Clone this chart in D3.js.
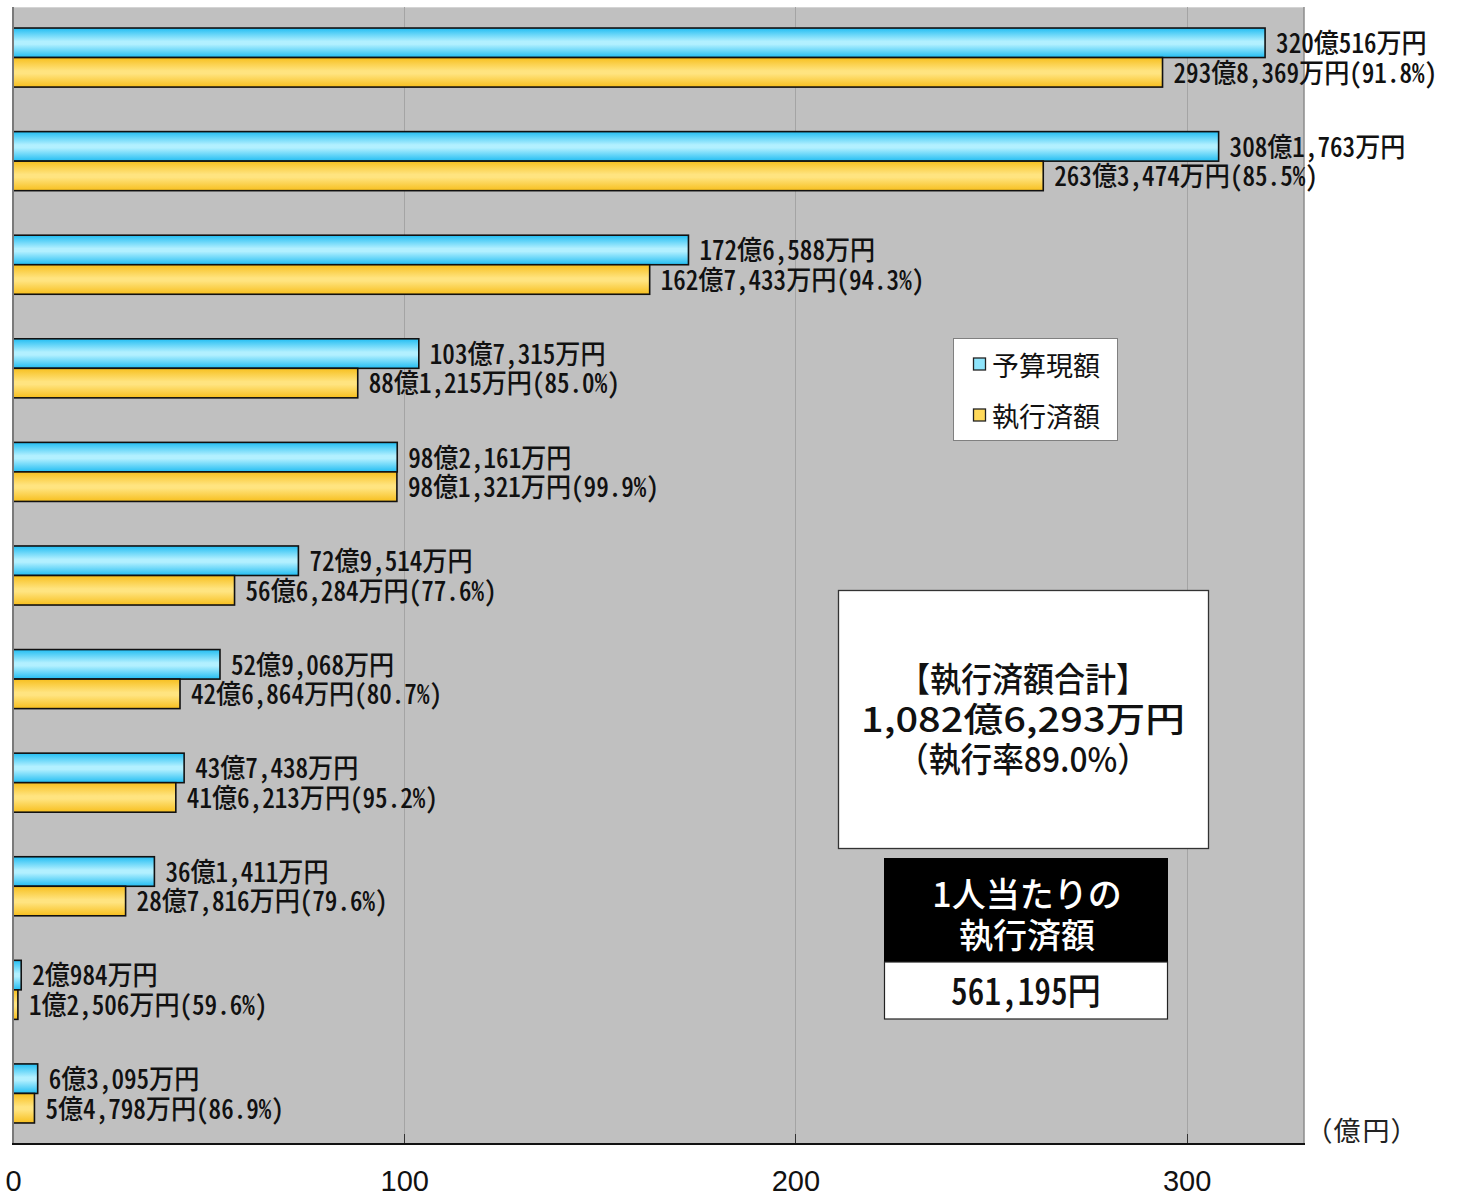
<!DOCTYPE html>
<html><head><meta charset="utf-8">
<script src="https://cdn.jsdelivr.net/npm/d3@7"></script>
<style>
html,body{margin:0;padding:0;background:#fff;}
svg{display:block;}
text{font-family:"Noto Sans CJK JP","Noto Sans",sans-serif;}
.hw{font-feature-settings:"hwid";}
</style></head>
<body>
<svg id="chart" width="1459" height="1197"></svg>
<script>
// ---- data (values in 万円) ----
const categories = ["c1","c2","c3","c4","c5","c6","c7","c8","c9","c10","c11"];
const seriesNames = ["予算現額","執行済額"];
const budget = [3200516, 3081763, 1726588, 1037315, 982161, 729514, 529068, 437438, 361411, 20984, 63095];
const executed = [2938369, 2633474, 1627433, 881215, 981321, 566284, 426864, 416213, 287816, 12506, 54798];
const rates = [91.8, 85.5, 94.3, 85.0, 99.9, 77.6, 80.7, 95.2, 79.6, 59.6, 86.9];
const xTicks = [0, 100, 200, 300];
const unitLabel = "（億円）";
const totalTitle = "【執行済額合計】";
const perPersonTitle = ["1人当たりの","執行済額"];
const perPersonValue = 561195;

const svg = d3.select("#chart");
const L = 13, R = 1304, T = 7, B = 1144;

const x = d3.scaleLinear().domain([0, 330]).range([L, R]);
const y = d3.scaleBand().domain(categories).range([T, B]).paddingInner(0.43).paddingOuter(0.203);
const ySub = d3.scaleBand().domain(seriesNames).range([0, y.bandwidth()]);

const fmt = d3.format(",");
function yenLabel(v){ const oku = Math.floor(v/10000), man = v % 10000; return fmt(oku) + "億" + fmt(man) + "万円"; }

// gradients
const defs = svg.append("defs");
function grad(id, edge, mid){
  const g = defs.append("linearGradient").attr("id", id).attr("x1",0).attr("y1",0).attr("x2",0).attr("y2",1);
  g.append("stop").attr("offset",0).attr("stop-color",edge);
  g.append("stop").attr("offset",0.45).attr("stop-color",mid);
  g.append("stop").attr("offset",0.55).attr("stop-color",mid);
  g.append("stop").attr("offset",1).attr("stop-color",edge);
}
grad("gBlue", "#22bdf2", "#b2f0ff");
grad("gYellow", "#f7bf1e", "#ffe480");
const fills = {"予算現額":"url(#gBlue)", "執行済額":"url(#gYellow)"};
const solid = {"予算現額":"#8ee4fb", "執行済額":"#ffd95a"};

// plot background
svg.append("rect").attr("x", L).attr("y", T).attr("width", R-L).attr("height", B-T).attr("fill", "#c0c0c0");
svg.append("line").attr("x1", L).attr("x2", R).attr("y1", T+0.5).attr("y2", T+0.5).attr("stroke", "#d4d4d4");
svg.append("line").attr("x1", R).attr("x2", R).attr("y1", T).attr("y2", B).attr("stroke", "#8c8c8c").attr("stroke-width", 1.5);

// gridlines
svg.append("g").selectAll("line").data(xTicks.filter(d=>d>0)).join("line")
  .attr("x1", d=>Math.round(x(d))+0.5).attr("x2", d=>Math.round(x(d))+0.5)
  .attr("y1", T).attr("y2", B).attr("stroke", "#a4a4a4").attr("stroke-width", 1);

// bars
const groups = svg.append("g").selectAll("g").data(categories).join("g")
  .attr("transform", d=>`translate(0,${y(d)})`);
groups.each(function(c, i){
  const g = d3.select(this);
  const vals = [budget[i], executed[i]];
  seriesNames.forEach((s, j)=>{
    const v = vals[j]/10000;
    g.append("rect")
      .attr("x", x(0)).attr("y", ySub(s))
      .attr("width", x(v)-x(0)).attr("height", ySub.bandwidth())
      .attr("fill", fills[s]).attr("stroke", "#111").attr("stroke-width", 1.6);
    const label = j === 0 ? yenLabel(vals[j]) : yenLabel(vals[j]) + "(" + rates[i].toFixed(1) + "%)";
    g.append("text").attr("class","hw")
      .attr("transform", `translate(${x(v)+11},${ySub(s)+ySub.bandwidth()/2-1}) scale(0.93,1)`)
      .attr("dominant-baseline","central")
      .attr("font-size", 27).attr("font-weight", 500).attr("fill", "#111")
      .text(label);
  });
});

// axes lines
svg.append("line").attr("x1", L).attr("x2", L).attr("y1", T).attr("y2", B).attr("stroke", "#7a7a7a").attr("stroke-width", 2);
const xAxis = d3.axisBottom(x).tickValues(xTicks).tickSize(0).tickPadding(0).tickFormat(d3.format("d"));
const ax = svg.append("g").attr("transform", `translate(0,${B})`).call(xAxis);
ax.select(".domain").remove();
ax.selectAll("text").attr("y", 37).attr("dy", null).attr("dominant-baseline", "central")
  .attr("font-size", 29).attr("fill", "#111")
  .style("font-family", '"Liberation Sans", Arial, sans-serif');
// inner ticks
svg.append("g").selectAll("line").data(xTicks.filter(d=>d>0)).join("line")
  .attr("x1", d=>Math.round(x(d))+0.5).attr("x2", d=>Math.round(x(d))+0.5)
  .attr("y1", B-10).attr("y2", B).attr("stroke", "#333").attr("stroke-width", 1);
svg.append("line").attr("x1", L-1).attr("x2", R+1).attr("y1", B).attr("y2", B).attr("stroke", "#111").attr("stroke-width", 2);

svg.append("text").attr("x", 1318).attr("y", 1129).attr("dominant-baseline","central")
  .attr("font-size", 27).style("font-feature-settings", '"palt"').attr("letter-spacing", 2)
  .attr("fill", "#222").text(unitLabel);

// legend
const lg = svg.append("g").attr("transform", "translate(953,338)");
lg.append("rect").attr("x", 0.5).attr("y", 0.5).attr("width", 164).attr("height", 102).attr("fill", "#fff").attr("stroke", "#808080");
seriesNames.forEach((s, j)=>{
  const cy = 26 + j*51;
  lg.append("rect").attr("x", 20.5).attr("y", cy-6).attr("width", 12).attr("height", 12)
    .attr("fill", solid[s]).attr("stroke", "#222").attr("stroke-width", 1.3);
  lg.append("text").attr("x", 39).attr("y", cy).attr("dominant-baseline","central")
    .attr("font-size", 27).attr("fill", "#111").text(s);
});

// total box
const total = d3.sum(executed), totalBudget = d3.sum(budget);
svg.append("rect").attr("x", 838.5).attr("y", 590.5).attr("width", 370).attr("height", 258)
  .attr("fill", "#fff").attr("stroke", "#333").attr("stroke-width", 1.3);
const tl = [
  {t: totalTitle, y: 677, w: 248},
  {t: yenLabel(total), y: 717, w: 324},
  {t: "（執行率" + (total/totalBudget*100).toFixed(1) + "%）", y: 757, w: 252}
];
tl.forEach(d=>{
  svg.append("text").attr("x", 1023).attr("y", d.y).attr("text-anchor","middle").attr("dominant-baseline","central")
    .attr("font-size", 34).attr("font-weight", 500).attr("fill", "#111")
    .attr("textLength", d.w).attr("lengthAdjust", "spacingAndGlyphs").text(d.t);
});
// per-person box
svg.append("rect").attr("x", 884).attr("y", 858).attr("width", 284).attr("height", 104).attr("fill", "#000");
svg.append("rect").attr("x", 884.5).attr("y", 962).attr("width", 283).attr("height", 57).attr("fill", "#fff").attr("stroke", "#222").attr("stroke-width", 1.2);
perPersonTitle.forEach((t, j)=>{
  svg.append("text").attr("x", 1027).attr("y", 892 + j*41).attr("text-anchor","middle").attr("dominant-baseline","central")
    .attr("font-size", 34).attr("font-weight", 500).attr("fill", "#fff").text(t);
});
svg.append("text").attr("class","hw")
  .attr("transform", "translate(1026,989) scale(0.9,1)")
  .attr("text-anchor","middle").attr("dominant-baseline","central")
  .attr("font-size", 37).attr("font-weight", 500).attr("fill", "#111").text(fmt(perPersonValue) + "円");
</script>
</body></html>
